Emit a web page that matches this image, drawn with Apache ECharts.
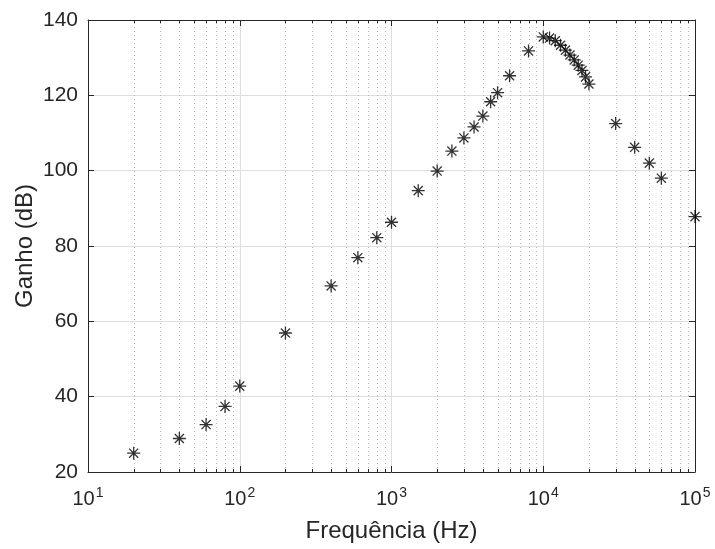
<!DOCTYPE html>
<html>
<head>
<meta charset="utf-8">
<script src="https://cdn.jsdelivr.net/npm/echarts@6/dist/echarts.min.js"></script>
<style>
html,body{margin:0;padding:0;background:#fff;}
#c{width:715px;height:549px;}
</style>
</head>
<body>
<div id="c"></div>
<script>
// ---- data ----
const freqHz = [20,40,60,80,100,200,400,600,800,1000,1500,2000,2500,3000,3500,4000,4500,5000,6000,8000,
  10000,11000,12000,13000,14000,15000,16000,17000,18000,19000,20000,30000,40000,50000,60000,100000];
const gainDb = [25.0,28.9,32.6,37.4,42.8,56.9,69.4,76.9,82.2,86.3,94.7,99.9,105.2,108.7,111.6,114.5,118.3,120.7,125.2,131.8,
  135.5,135.2,134.5,133.3,132.0,130.7,129.4,128.0,126.6,124.9,123.0,112.5,106.2,102.0,98.0,87.8];
const xMin = 10, xMax = 100000;
const yMin = 20, yMax = 140, yStep = 20;
const xTitle = 'Frequência (Hz)';
const yTitle = 'Ganho (dB)';
// minor log tick positions (2..9 per decade)
const minorFreqs = [];
for (let d = 10; d < xMax; d *= 10) { for (let k = 2; k <= 9; k++) minorFreqs.push(k * d); }

const ink = '#262626';
const font = '"Liberation Sans", Arial, Helvetica, sans-serif';

const chart = echarts.init(document.getElementById('c'), null, {renderer: 'canvas'});

const xLabelFmt = function (v) {
  const e = Math.round(Math.log10(v));
  return '{b|10}{s|' + e + '}';
};

const option = {
  backgroundColor: '#ffffff',
  animation: false,
  textStyle: {fontFamily: font},
  grid: {left: 88, right: 20, top: 20, bottom: 77, containLabel: false},
  xAxis: [{
    type: 'log', logBase: 10, min: xMin, max: xMax, position: 'bottom',
    name: xTitle, nameLocation: 'middle', nameGap: 47,
    nameTextStyle: {color: ink, fontSize: 24, fontFamily: font},
    axisLine: {show: true, lineStyle: {color: ink, width: 1}},
    axisTick: {show: true, inside: true, length: 6, lineStyle: {color: ink}},
    axisLabel: {
      color: ink, margin: 14, formatter: xLabelFmt,
      rich: {
        b: {fontSize: 20, fontFamily: font, color: ink},
        s: {fontSize: 14, fontFamily: font, color: ink, padding: [0, 0, 12, 1]}
      }
    },
    splitLine: {show: true, lineStyle: {color: '#dedede', width: 1}}
  }, {
    type: 'log', logBase: 10, min: xMin, max: xMax, position: 'top',
    axisLine: {show: true, lineStyle: {color: ink, width: 1}},
    axisTick: {show: true, inside: true, length: 6, lineStyle: {color: ink}},
    axisLabel: {show: false},
    splitLine: {show: false}
  }],
  yAxis: [{
    type: 'value', min: yMin, max: yMax, interval: yStep, position: 'left',
    name: yTitle, nameLocation: 'middle', nameGap: 51, nameMoveOverlap: false,
    nameTextStyle: {color: ink, fontSize: 24, fontFamily: font},
    axisLine: {show: true, lineStyle: {color: ink, width: 1}},
    axisTick: {show: true, inside: true, length: 6, lineStyle: {color: ink}},
    axisLabel: {color: ink, fontSize: 21, fontFamily: font, margin: 10},
    splitLine: {show: true, lineStyle: {color: '#dedede', width: 1}}
  }, {
    type: 'value', min: yMin, max: yMax, interval: yStep, position: 'right',
    axisLine: {show: true, lineStyle: {color: ink, width: 1}},
    axisTick: {show: true, inside: true, length: 6, lineStyle: {color: ink}},
    axisLabel: {show: false},
    splitLine: {show: false}
  }],
  series: [{
    type: 'custom',
    xAxisIndex: 0, yAxisIndex: 0,
    silent: true, z: 1,
    data: minorFreqs.map(v => [v, yMin]),
    renderItem: function (params, api) {
      const v = api.value(0);
      const b = api.coord([v, yMin]);
      const t = api.coord([v, yMax]);
      const x = Math.round(b[0]) + 0.5;
      return {
        type: 'group',
        children: [
          {type: 'line', shape: {x1: x, y1: b[1], x2: x, y2: t[1]},
           style: {stroke: '#b8b8b8', lineWidth: 1, lineDash: [1, 3]}},
          {type: 'line', shape: {x1: x, y1: b[1], x2: x, y2: b[1] - 3},
           style: {stroke: ink, lineWidth: 1}},
          {type: 'line', shape: {x1: x, y1: t[1], x2: x, y2: t[1] + 3},
           style: {stroke: ink, lineWidth: 1}}
        ]
      };
    }
  }, {
    type: 'scatter',
    xAxisIndex: 0, yAxisIndex: 0, z: 5,
    data: freqHz.map((f, i) => [f, gainDb[i]]),
    symbol: 'path://M10 0L10 20M0 10L20 10M3 3L17 17M3 17L17 3',
    symbolSize: 13,
    itemStyle: {color: 'none', borderColor: '#000000', borderWidth: 1.3}
  }]
};
chart.setOption(option);
</script>
</body>
</html>
